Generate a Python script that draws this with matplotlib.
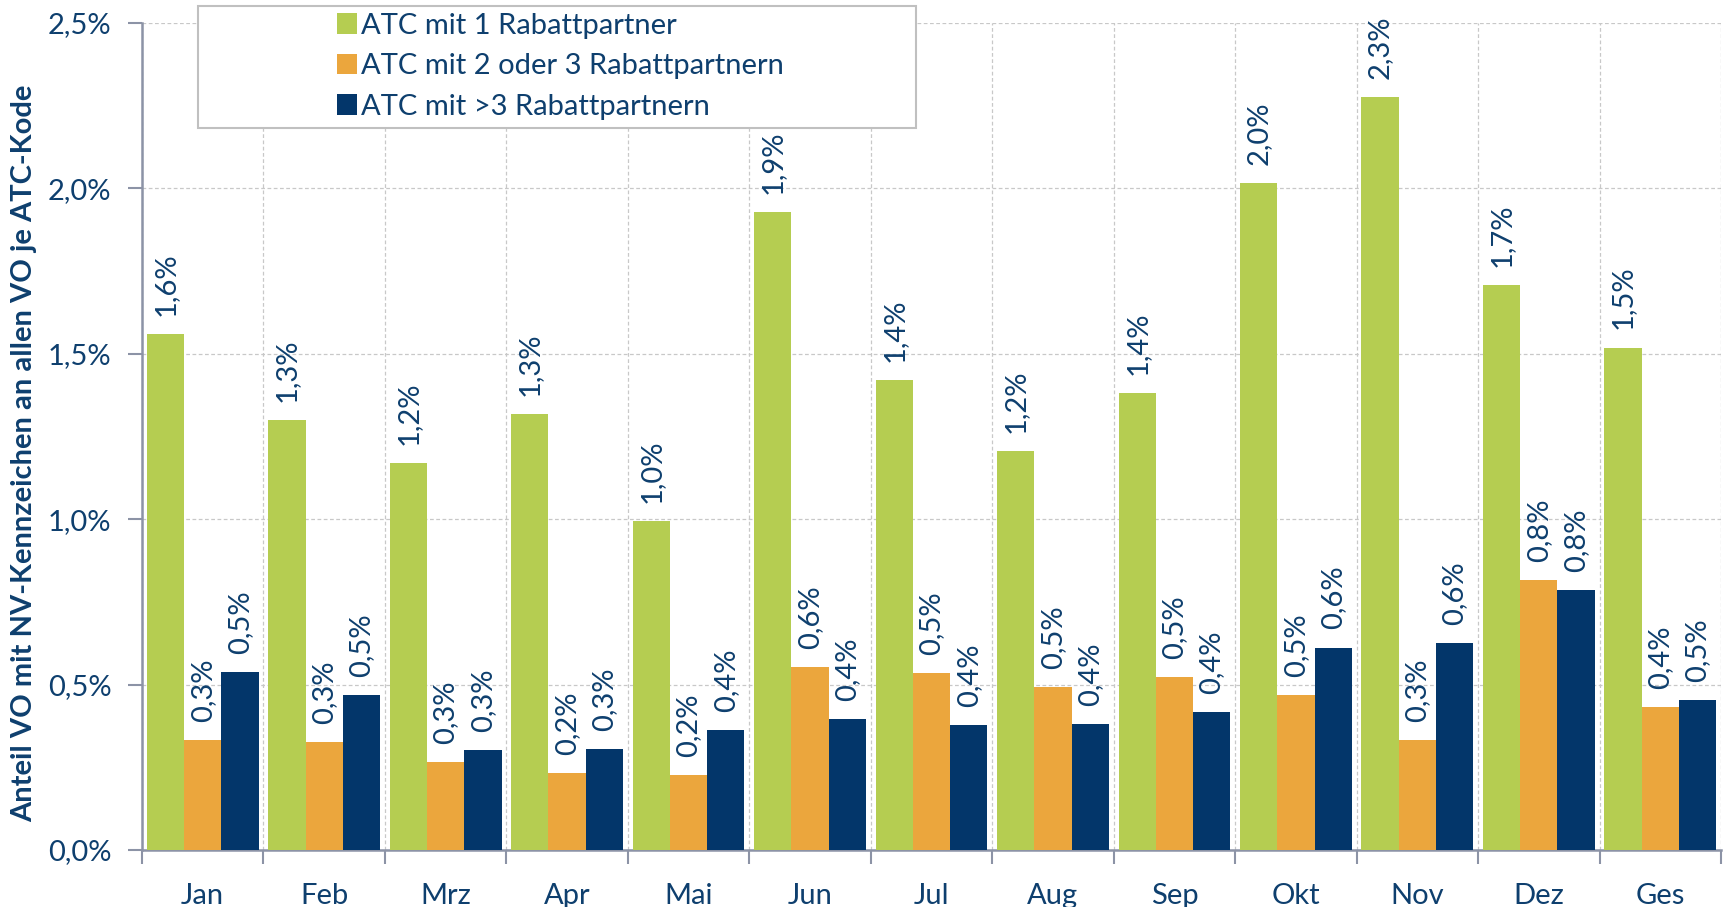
import matplotlib
matplotlib.use("Agg")
import matplotlib.pyplot as plt
import numpy as np
from matplotlib.patches import Rectangle, Patch

categories = ["Jan", "Feb", "Mrz", "Apr", "Mai", "Jun", "Jul", "Aug", "Sep", "Okt", "Nov", "Dez", "Ges"]
series_names = ["ATC mit 1 Rabattpartner", "ATC mit 2 oder 3 Rabattpartnern", "ATC mit >3 Rabattpartnern"]
one_partner = [1.56, 1.30, 1.17, 1.317, 0.994, 1.93, 1.42, 1.207, 1.38, 2.015, 2.277, 1.709, 1.519]
two_three_partners = [0.332, 0.326, 0.266, 0.233, 0.226, 0.552, 0.535, 0.492, 0.522, 0.469, 0.332, 0.815, 0.432]
more_partners = [0.539, 0.469, 0.303, 0.306, 0.362, 0.396, 0.379, 0.382, 0.416, 0.612, 0.625, 0.785, 0.452]
y_ticks = [0.0, 0.5, 1.0, 1.5, 2.0, 2.5]
y_label = "Anteil VO mit NV-Kennzeichen an allen VO je ATC-Kode"

colors = ["#B5CD51", "#EBA63D", "#03366A"]
text_col = "#0E3F6E"
axis_col = "#8C93A6"
grid_col = "#C8C8C8"

plt.rcParams['font.family'] = ['Lato', 'DejaVu Sans']

W, H = 1725, 907
fig = plt.figure(figsize=(W / 100, H / 100), dpi=100)
ax = fig.add_axes([142 / W, 1 - 850 / H, (1721 - 142) / W, (850 - 23) / H])

x = np.arange(len(categories))
bw = 0.92 / 3
series = [one_partner, two_three_partners, more_partners]
for i, (vals, col) in enumerate(zip(series, colors)):
    xs = x + (i - 1) * bw
    ax.bar(xs, vals, width=bw, color=col, zorder=3, edgecolor='none')
    for xi, v in zip(xs, vals):
        lbl = f"{v:.1f}%".replace(".", ",")
        ax.annotate(lbl, (xi, v), xytext=(0, 13), textcoords='offset points',
                    rotation=90, ha='center', va='bottom', fontsize=21, color=text_col)

ax.set_xlim(-0.5, len(categories) - 0.5)
ax.set_ylim(0, 2.5)
ax.set_yticks(y_ticks)
ax.set_yticklabels([f"{t:.1f}%".replace(".", ",") for t in y_ticks], fontsize=21, color=text_col)
ax.set_xticks(np.arange(len(categories) + 1) - 0.5)
ax.set_xticklabels([])
ax.set_xticks(x, minor=True)
ax.set_xticklabels(categories, minor=True, fontsize=21, color=text_col)
ax.tick_params(axis='x', which='minor', length=0, pad=24)
ax.tick_params(axis='x', which='major', length=10, width=1.5, color=axis_col, direction='out')
ax.tick_params(axis='y', length=10, width=1.5, color=axis_col, direction='out', pad=12)

ax.grid(True, which='major', axis='both', color=grid_col, linestyle=(0, (3, 2)), linewidth=0.9, zorder=0)
for s in ['top', 'right']:
    ax.spines[s].set_visible(False)
for s in ['left', 'bottom']:
    ax.spines[s].set_color(axis_col)
    ax.spines[s].set_linewidth(1.8)
ax.set_ylabel(y_label, fontsize=21, fontweight='bold', color=text_col)
ax.yaxis.set_label_coords(-105 / (1721 - 142), 0.48)

# legend box
box = Rectangle((198 / W, 1 - 128 / H), (916 - 198) / W, (128 - 6) / H, transform=fig.transFigure,
                facecolor='white', edgecolor='#C0C0C0', linewidth=1.5, zorder=5)
fig.patches.append(box)
handles = [Patch(facecolor=c, edgecolor='none') for c in colors]
leg = fig.legend(handles, series_names, loc='upper left', bbox_to_anchor=(322 / W, 1 + 2 / H),
                 frameon=False, fontsize=21, handlelength=0.7, handleheight=0.7,
                 handletextpad=0.15, labelspacing=0.5, borderpad=0.0)
for t in leg.get_texts():
    t.set_color(text_col)
leg.set_zorder(6)

fig.savefig("out.png", dpi=100)
